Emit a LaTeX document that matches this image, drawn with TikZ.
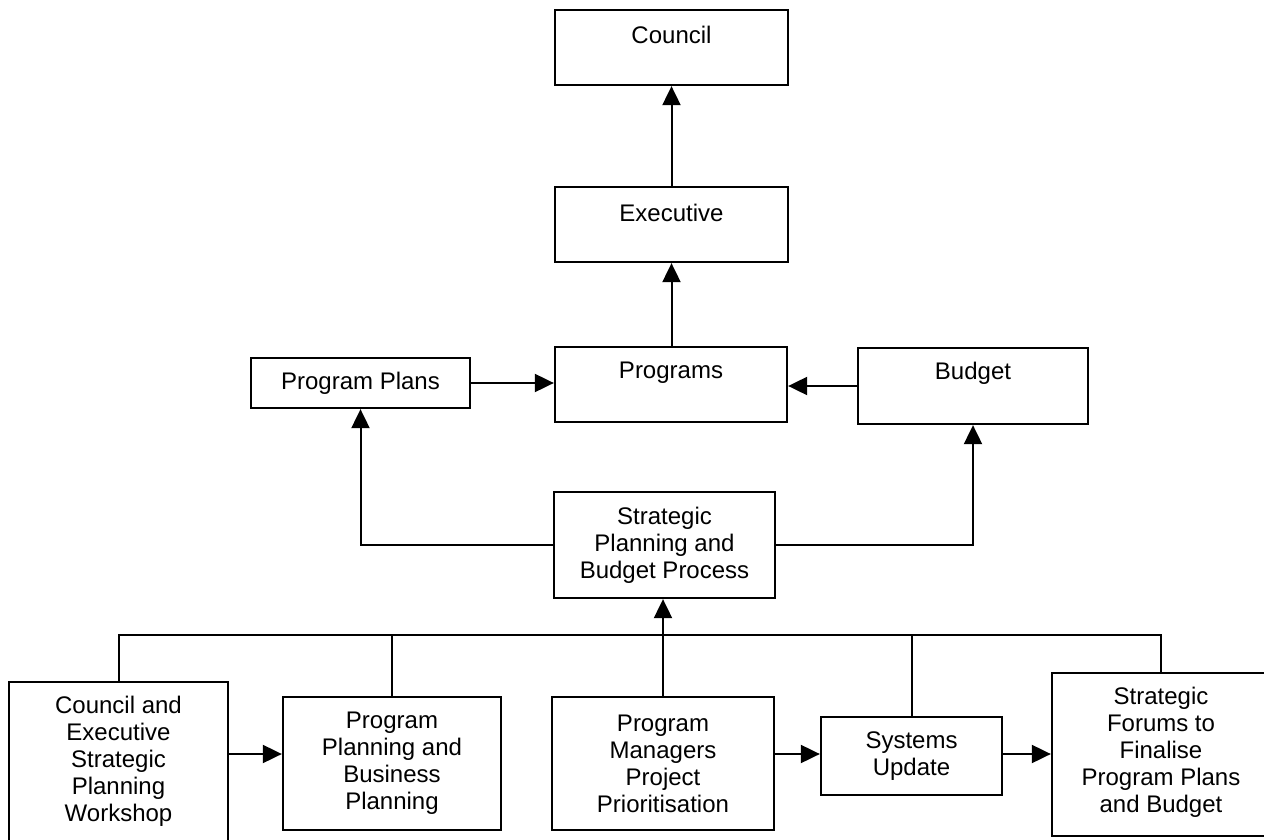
\documentclass[tikz,border=0pt]{standalone}
\usepackage{fontspec}
\setmainfont{Liberation Sans}
\usetikzlibrary{arrows.meta}
\begin{document}
\begin{tikzpicture}[x=1pt,y=-1pt,
  box/.style={draw=black, line width=2.3pt, rectangle, inner sep=0pt, align=center,
    font={\fontsize{24}{27}\selectfont}},
  lbl/.style={inner sep=0pt, align=center, font={\fontsize{24}{27}\selectfont}},
  conn/.style={draw=black, line width=2pt},
  arr/.style={conn, -{Triangle[length=19pt,width=18pt]}}]
\fill[white] (0,0) rectangle (1264,840);
\useasboundingbox (0,0) rectangle (1264,840);
% top boxes
\node[box, minimum width=233pt, minimum height=75pt] (council) at (671.5,47.5) {};
\node[lbl] (councilT) at (671.5,35) {Council};
\node[box, minimum width=233pt, minimum height=75pt] (exec) at (671.5,224.5) {};
\node[lbl] (execT) at (671.5,213) {Executive};
\node[box, minimum width=219pt, minimum height=50pt] (plans) at (360.5,383) {Program Plans};
\node[box, minimum width=232pt, minimum height=75pt] (programs) at (671,384.5) {};
\node[lbl] (programsT) at (671,373) {Programs};
\node[box, minimum width=230pt, minimum height=76pt] (budget) at (973,386) {};
\node[lbl] (budgetT) at (973,373) {Budget};
\node[box, minimum width=221pt, minimum height=106pt] (strat) at (664.5,545) {Strategic\\Planning and\\Budget Process};
% bottom row
\node[box, minimum width=219pt, minimum height=175pt] (cew) at (118.5,769.5) {};
\node[lbl] (cewT) at (118.5,761) {Council and\\Executive\\Strategic\\Planning\\Workshop};
\node[box, minimum width=218pt, minimum height=133pt] (ppbp) at (392,763.5) {Program\\Planning and\\Business\\Planning};
\node[box, minimum width=222pt, minimum height=133pt] (pmpp) at (663,763.5) {Program\\Managers\\Project\\Prioritisation};
\node[box, minimum width=181pt, minimum height=78pt] (sys) at (911.5,756) {Systems\\Update};
\node[box, minimum width=240pt, minimum height=163pt] (forums) at (1172,754.5) {};
\node[lbl] (forumsT) at (1161,752) {Strategic\\Forums to\\Finalise\\Program Plans\\and Budget};
% coordinates
\coordinate (busL) at (118.5,635);
\coordinate (busR) at (1161,635);
\coordinate (row) at (0,754);
% top connectors
\draw[arr] (exec.north) -- (council.south);
\draw[arr] (programs.north -| exec.south) -- (exec.south);
\draw[arr] (plans.east) -- (plans.east -| programs.west);
\draw[arr] (budget.west) -- (budget.west -| programs.east);
\draw[arr] (strat.west) -| (plans.south);
\draw[arr] (strat.east) -| (budget.south);
% bus
\draw[conn] (cew.north) -- (busL) -- (busR) -- (busR |- forums.north);
\draw[conn] (ppbp.north) -- (ppbp.north |- busL);
\draw[conn] (sys.north) -- (sys.north |- busL);
\draw[arr] (pmpp.north) -- (pmpp.north |- strat.south);
% row arrows
\draw[arr] (cew.east |- row) -- (ppbp.west |- row);
\draw[arr] (pmpp.east |- row) -- (sys.west |- row);
\draw[arr] (sys.east |- row) -- (forums.west |- row);
\end{tikzpicture}
\end{document}
